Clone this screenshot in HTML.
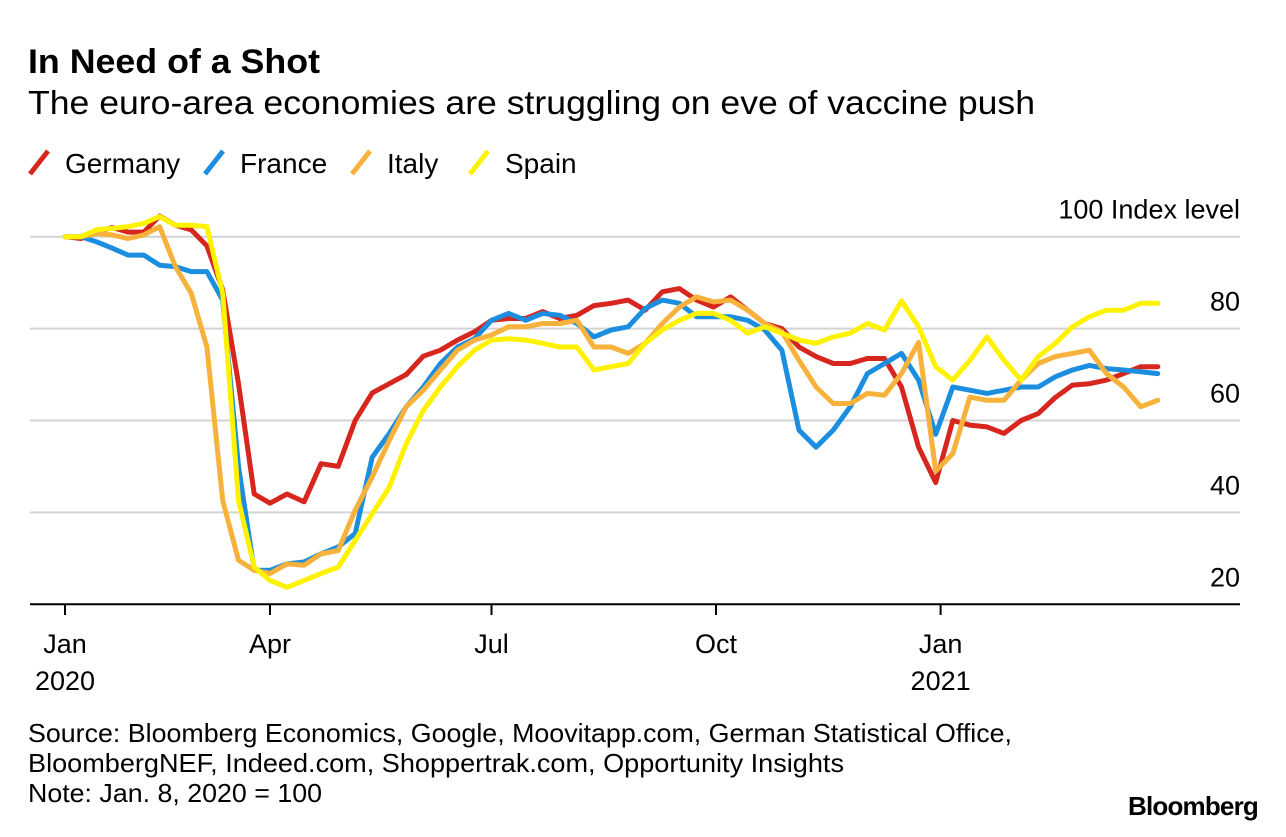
<!DOCTYPE html>
<html><head><meta charset="utf-8">
<style>
body{margin:0;background:#fff;width:1286px;height:832px;overflow:hidden;font-family:"Liberation Sans",Arial,sans-serif;}
</style></head>
<body>
<svg id="chart" width="1286" height="832" viewBox="0 0 1286 832" xmlns="http://www.w3.org/2000/svg" font-family="Liberation Sans, Arial, sans-serif">
<text x="28" y="73" font-size="34" font-weight="bold" fill="#000" textLength="292" lengthAdjust="spacingAndGlyphs">In Need of a Shot</text>
<text x="28" y="114" font-size="33" fill="#000" textLength="1007" lengthAdjust="spacingAndGlyphs">The euro-area economies are struggling on eve of vaccine push</text>
<g id="legend"></g>
<g id="grid"></g>
<g id="xaxis"></g>
<g id="series"></g>
<text x="28" y="742" font-size="26" fill="#000" textLength="984" lengthAdjust="spacingAndGlyphs">Source: Bloomberg Economics, Google, Moovitapp.com, German Statistical Office,</text>
<text x="28" y="772" font-size="26" fill="#000" textLength="816" lengthAdjust="spacingAndGlyphs">BloombergNEF, Indeed.com, Shoppertrak.com, Opportunity Insights</text>
<text x="28" y="802" font-size="26" fill="#000" textLength="294" lengthAdjust="spacingAndGlyphs">Note: Jan. 8, 2020 = 100</text>
<text x="1258" y="815" font-size="26" font-weight="bold" text-anchor="end" fill="#000" letter-spacing="-0.8">Bloomberg</text>
</svg>
<script>
const days=[0,7,14,21,28,35,42,49,56,63,70,77,84,91,98,105,112,119,126,133,140,147,154,161,168,175,182,189,196,203,210,217,224,231,238,245,252,259,266,273,280,287,294,301,308,315,322,329,336,343,350,357,364,371,378,385,392,399,406,413,420,427,434,441,448,455];
const germany=[100,99.6,101,102,101,101,104.5,102.5,101.5,98,88.4,68,44,42,44,42.3,50.6,50,60,66,68,70,74,75.3,77.5,79.3,81.8,82.2,82.2,83.7,82.2,82.9,85,85.5,86.2,84,88,88.7,86.2,84.7,86.9,84,81.1,80,76,73.9,72.4,72.4,73.5,73.5,67.3,54.2,46.5,60,59,58.6,57.2,60,61.5,65,67.7,68,68.8,70.2,71.7,71.7];
const france=[100,100,98.9,97.5,96,96,93.8,93.5,92.4,92.4,86.2,50,27.4,27.4,28.8,29.2,31,32.5,35.4,52,57.2,63,67.3,72.4,76,77.8,81.8,83.3,81.8,83.3,82.9,81.1,78.2,79.7,80.4,84.4,86.2,85.5,82.6,82.6,82.6,81.8,79.7,75.3,57.9,54.2,57.9,63,70.2,72.4,74.6,68.8,57,67.3,66.6,65.9,66.6,67.3,67.3,69.5,71,72,71.3,71,70.6,70.2];
const italy=[100,100,100.7,100.4,99.6,100.4,102.2,93.5,87.7,76,42.6,29.6,27.4,26.7,28.8,28.5,31,31.7,40.5,47.7,55.7,63,66.6,71,75.3,77.5,78.6,80.4,80.4,81.1,81.1,81.8,76,76,74.6,76.8,81.1,84.7,86.9,85.8,86.2,84,81.1,79.3,73.1,67.3,63.7,63.7,65.9,65.5,70.2,77,49,52.8,65.1,64.4,64.4,68.8,72.4,73.9,74.6,75.3,70.2,67.3,63,64.4];
const spain=[100,100,101.5,101.8,102.2,102.9,104.4,102.5,102.5,102.2,87.7,42.6,28.1,25.2,23.7,25.2,26.7,28.1,33.9,39.7,45.5,55,62.2,67.3,71.7,75.3,77.5,77.8,77.5,76.8,76,76,71,71.7,72.4,76.8,79.7,81.8,83.3,83.3,81.8,79,80.4,79,77.5,76.8,78.2,79,81.1,79.7,86,80.4,71.7,68.8,73.1,78.2,73.1,68.8,73.9,76.8,80.4,82.6,84,84,85.5,85.5];
const seriesNames=["Germany","France","Italy","Spain"];
const seriesColors=["#d7261e","#1b8ee0","#f7b23b","#fff200"];
const yTicks=[20,40,60,80,100];
const xTickDays=[0,91,182,274,366];
const xTickLabels=["Jan","Apr","Jul","Oct","Jan"];
const xYearLabels=["2020","","","","2021"];

const NS="http://www.w3.org/2000/svg";
const anchorsPx=[65,270,491.5,716,940.6];
function xScale(d){
  for(let i=0;i<xTickDays.length-1;i++){
    if(d<=xTickDays[i+1]){const t=(d-xTickDays[i])/(xTickDays[i+1]-xTickDays[i]);return anchorsPx[i]+t*(anchorsPx[i+1]-anchorsPx[i]);}
  }
  return anchorsPx[4]+(d-366)*2.44;
}
function yScale(v){return 604.3-(v-20)*(604.3-236.7)/80;}
function mk(tag,attrs,parent){const e=document.createElementNS(NS,tag);for(const k in attrs)e.setAttribute(k,attrs[k]);parent.appendChild(e);return e;}

const grid=document.getElementById('grid');
yTicks.forEach((v,i)=>{
  if(v>20){
    const l=mk('line',{x1:30,x2:1240,y1:yScale(v),y2:yScale(v),stroke:'#d3d3d3','stroke-width':2},grid);
    
    
  }
  const t=mk('text',{x:1240,y:yScale(v)-18,'font-size':27,'text-anchor':'end',fill:'#000'},grid);
  t.textContent=(v===100?'100 Index level':String(v));
  
  
});
const xa=document.getElementById('xaxis');
const base=mk('line',{x1:30,x2:1240,y1:604.3,y2:604.3,stroke:'#000','stroke-width':2},xa);


xTickDays.forEach((d,i)=>{
  const x=xScale(d);
  const tk=mk('line',{x1:x,x2:x,y1:604,y2:615,stroke:'#000','stroke-width':2},xa);
  
  
  const t=mk('text',{x:x,y:653,'font-size':27,'text-anchor':'middle',fill:'#000'},xa);
  t.textContent=xTickLabels[i];
  
  
  if(xYearLabels[i]){
    const y=mk('text',{x:x,y:690,'font-size':27,'text-anchor':'middle',fill:'#000'},xa);
    y.textContent=xYearLabels[i];
    
    
  }
});
const sg=document.getElementById('series');
[germany,france,italy,spain].forEach((vals,si)=>{
  const pts=vals.map((v,i)=>xScale(days[i]).toFixed(1)+','+yScale(v).toFixed(1)).join(' ');
  const p=mk('polyline',{points:pts,fill:'none',stroke:seriesColors[si],'stroke-width':5,'stroke-linejoin':'round','stroke-linecap':'round'},sg);
  
  
});
const lg=document.getElementById('legend');
const legX=[30,205,352,470];
seriesNames.forEach((n,i)=>{
  const x=legX[i];
  const m=mk('line',{x1:x,y1:174,x2:x+18,y2:151,stroke:seriesColors[i],'stroke-width':5},lg);
  
  
  const t=mk('text',{x:x+35,y:173,'font-size':28,fill:'#000'},lg);
  t.textContent=n;
  
  
});
</script>
</body></html>
